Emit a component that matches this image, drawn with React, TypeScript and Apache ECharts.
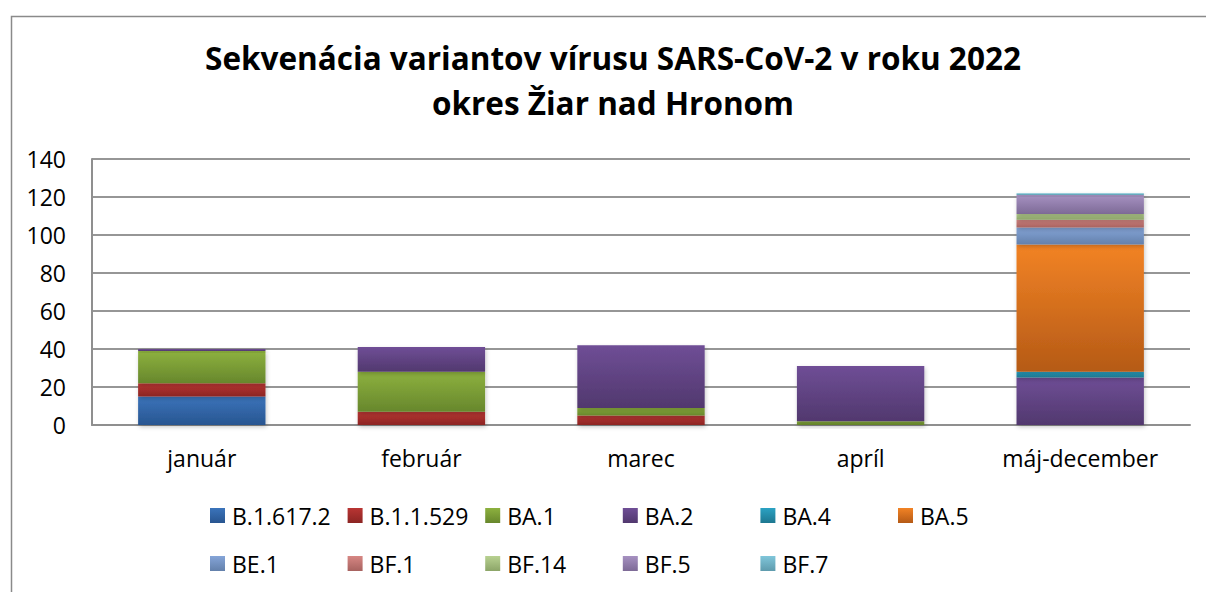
import React, { useEffect, useRef } from "react";
import * as echarts from "echarts";

const categories = ["január", "február", "marec", "apríl", "máj-december"];
const variants = ["B.1.617.2", "B.1.1.529", "BA.1", "BA.2", "BA.4", "BA.5", "BE.1", "BF.1", "BF.14", "BF.5", "BF.7"];
const b16172 = [15, 0, 0, 0, 0];
const b11529 = [7, 7, 5, 0, 0];
const ba1 = [17, 21, 4, 2, 0];
const ba2 = [1, 13, 33, 29, 25];
const ba4 = [0, 0, 0, 0, 3];
const ba5 = [0, 0, 0, 0, 67];
const be1 = [0, 0, 0, 0, 9];
const bf1 = [0, 0, 0, 0, 4];
const bf14 = [0, 0, 0, 0, 3];
const bf5 = [0, 0, 0, 0, 10];
const bf7 = [0, 0, 0, 0, 1];
const seriesValues = [b16172, b11529, ba1, ba2, ba4, ba5, be1, bf1, bf14, bf5, bf7];
const yTicks = [0, 20, 40, 60, 80, 100, 120, 140];
const titleLines = ["Sekvenácia variantov vírusu SARS-CoV-2 v roku 2022", "okres Žiar nad Hronom"];

const gradientStops: [string, string][] = [
  ["#3b74bb", "#285590"],
  ["#b93533", "#8c2523"],
  ["#8db13f", "#67872c"],
  ["#6f4e96", "#51386e"],
  ["#2ba2c3", "#1d7790"],
  ["#f28325", "#b55a16"],
  ["#85a5d8", "#6380ab"],
  ["#d78784", "#a7625f"],
  ["#b8d191", "#8ca568"],
  ["#a691c1", "#7d6a96"],
  ["#80c6da", "#5e9bad"],
];

const legendCols = [210, 347.6, 485.2, 622.8, 760.4, 898];
const legendRows = [504, 552];

export default function App() {
  const ref = useRef<HTMLDivElement>(null);
  useEffect(() => {
    if (!ref.current) return;
    const chart = echarts.init(ref.current, null, { renderer: "svg" });
    const font = "'Open Sans', 'Noto Sans', sans-serif";
    const series = variants.map((name, i) => ({
      name,
      type: "bar",
      stack: "total",
      barWidth: "58%",
      data: seriesValues[i],
      itemStyle: {
        color: new echarts.graphic.LinearGradient(0, 0, 0, 1, [
          { offset: 0, color: gradientStops[i][0] },
          { offset: 1, color: gradientStops[i][1] },
        ]),
        shadowBlur: 4,
        shadowOffsetX: 1,
        shadowOffsetY: 2,
        shadowColor: "rgba(0,0,0,0.22)",
      },
    }));
    const legends = variants.map((name, i) => ({
      data: [name],
      left: legendCols[i < 6 ? i : i - 6],
      top: legendRows[i < 6 ? 0 : 1],
      itemWidth: 15,
      itemHeight: 15,
      itemGap: 0,
      padding: 0,
      icon: "rect",
      selectedMode: false,
      textStyle: { fontFamily: font, fontSize: 23, color: "#000", lineHeight: 15, padding: [0, 0, 0, 2] },
    }));
    chart.setOption({
      animation: false,
      backgroundColor: "#fff",
      title: {
        text: titleLines.join("\n"),
        left: 613,
        top: 35,
        padding: 0,
        textAlign: "center",
        textStyle: { fontFamily: font, fontWeight: "bold", fontSize: 31.5, color: "#000", lineHeight: 45 },
      },
      graphic: [
        {
          type: "rect",
          left: 9,
          top: 14,
          shape: { width: 1400, height: 800 },
          style: { fill: "none", stroke: "#8a8a8a", lineWidth: 1.5 },
          silent: true,
        },
      ],
      legend: legends,
      grid: { left: 92, right: 16, top: 159, bottom: 167 },
      xAxis: {
        type: "category",
        data: categories,
        axisLine: { show: true, lineStyle: { color: "#8f8f8f", width: 2 } },
        axisTick: { show: false },
        axisLabel: { fontFamily: font, fontSize: 23, color: "#000", margin: 21 },
      },
      yAxis: {
        type: "value",
        min: yTicks[0],
        max: yTicks[yTicks.length - 1],
        interval: 20,
        axisLine: { show: true, lineStyle: { color: "#8f8f8f", width: 2 } },
        axisTick: { show: false },
        splitLine: { lineStyle: { color: "#969696", width: 2 } },
        axisLabel: { fontFamily: font, fontSize: 23, color: "#000", margin: 26 },
      },
      series,
    });
    return () => chart.dispose();
  }, []);
  return (
    <div
      ref={ref}
      style={{ position: "fixed", left: 0, top: 0, width: 1206, height: 592, background: "#fff" }}
    />
  );
}
